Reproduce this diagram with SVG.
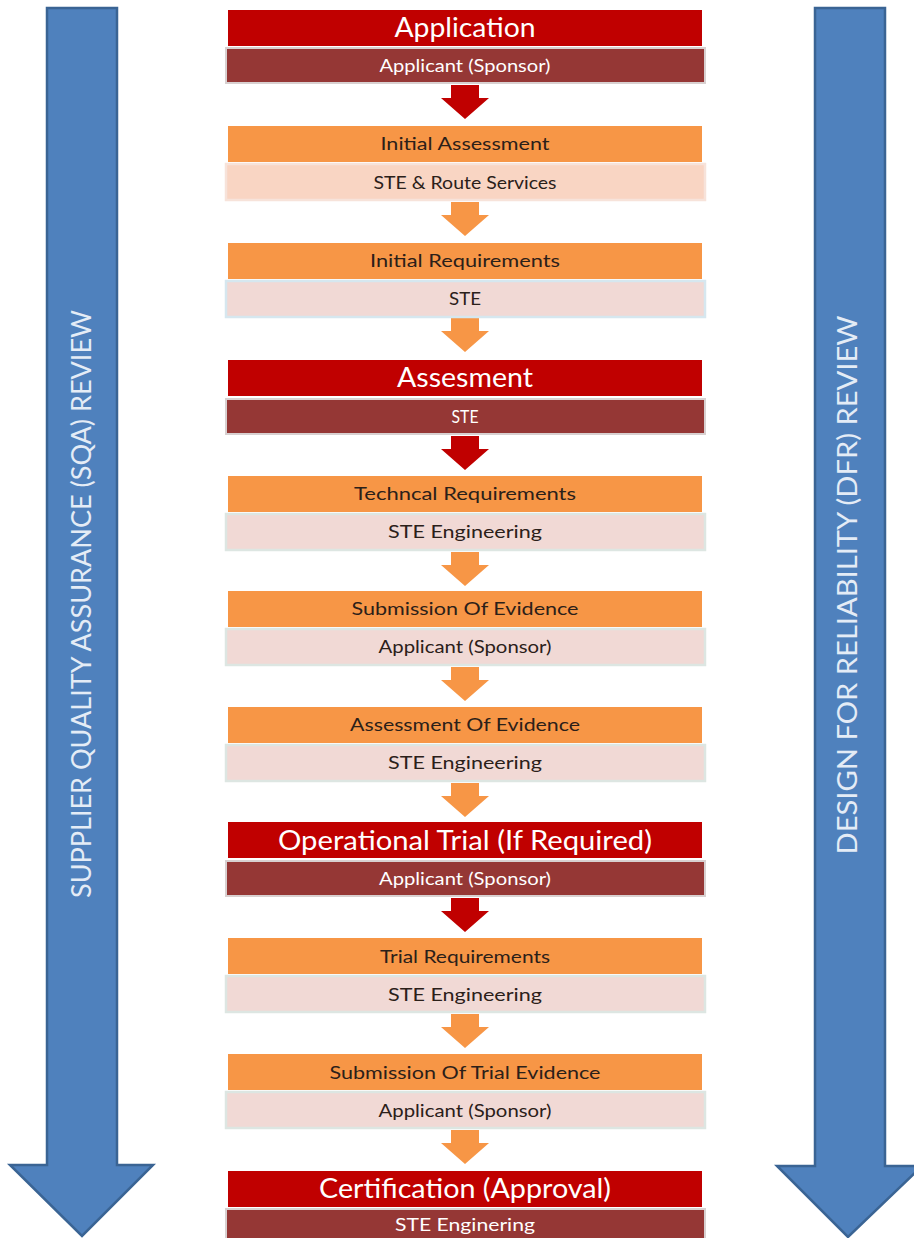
<svg xmlns="http://www.w3.org/2000/svg" width="914" height="1238" viewBox="0 0 914 1238">
<style>
.bluearrow{fill:#4F81BD;stroke:#3A6494;stroke-width:2.5;stroke-linejoin:miter}
.vtext{font-family:Lato,"Open Sans","Liberation Sans",sans-serif;font-size:27px;fill:#E4ECF6;text-anchor:middle}
.hred{fill:#C00000}
.sred{fill:#953735;stroke:#D8D0D0;stroke-width:2}
.horg{fill:#F79646}
.slt{fill:#F1D9D5;stroke:#DDE6E2;stroke-width:2.5}
.slt2{fill:#F9D5C3;stroke:#F7E3DA;stroke-width:2.5}
.tbig{font-family:Lato,"Open Sans","Liberation Sans",sans-serif;font-size:26px;fill:#FFFFFF;text-anchor:middle}
.twhite{font-family:Lato,"Open Sans","Liberation Sans",sans-serif;font-size:17px;fill:#FFFFFF;text-anchor:middle}
.tdark{font-family:Lato,"Open Sans","Liberation Sans",sans-serif;font-size:18px;fill:#2B2019;text-anchor:middle}
.ared{fill:#C00000}
.aorg{fill:#F79646}
</style>
<defs>
<path id="dn" d="M-14,0 H14 V13 H24 L0,34 L-24,13 H-14 Z"/>
</defs>

<g id="sqa-review">
<polygon class="bluearrow" points="47,8 117,8 117,1165 153,1165 82,1236 10,1165 47,1165"/>
<text class="vtext" transform="translate(91,604) rotate(-90)" textLength="588" lengthAdjust="spacingAndGlyphs">SUPPLIER QUALITY ASSURANCE (SQA) REVIEW</text>
</g>
<g id="dfr-review">
<polygon class="bluearrow" points="815,8 885,8 885,1166 922,1166 848,1237 777,1166 815,1166"/>
<text class="vtext" transform="translate(857,585) rotate(-90)" textLength="539" lengthAdjust="spacingAndGlyphs">DESIGN FOR RELIABILITY (DFR) REVIEW</text>
</g>

<g id="connectors">
<use href="#dn" class="ared" x="465" y="85"/>
<use href="#dn" class="aorg" x="465" y="202"/>
<use href="#dn" class="aorg" x="465" y="318"/>
<use href="#dn" class="ared" x="465" y="436"/>
<use href="#dn" class="aorg" x="465" y="552"/>
<use href="#dn" class="aorg" x="465" y="667"/>
<use href="#dn" class="aorg" x="465" y="783"/>
<use href="#dn" class="ared" x="465" y="898"/>
<use href="#dn" class="aorg" x="465" y="1014"/>
<use href="#dn" class="aorg" x="465" y="1130"/>
</g>

<g id="step-application">
<rect class="hred" x="228" y="10" width="474" height="36"/>
<text class="tbig" x="465" y="37" textLength="141" lengthAdjust="spacingAndGlyphs">Application</text>
<rect class="sred" x="226" y="48" width="479" height="35"/>
<text class="twhite" x="465" y="72" textLength="171" lengthAdjust="spacingAndGlyphs">Applicant (Sponsor)</text>
</g>

<g id="step-initial-assessment">
<rect class="horg" x="228" y="126" width="474" height="36"/>
<text class="tdark" x="465" y="150" textLength="169" lengthAdjust="spacingAndGlyphs">Initial Assessment</text>
<rect class="slt2" x="226" y="164" width="479" height="36"/>
<text class="tdark" x="465" y="189" textLength="183" lengthAdjust="spacingAndGlyphs">STE &amp; Route Services</text>
</g>

<g id="step-initial-requirements">
<rect class="horg" x="228" y="243" width="474" height="36"/>
<text class="tdark" x="465" y="267" textLength="190" lengthAdjust="spacingAndGlyphs">Initial Requirements</text>
<rect class="slt" x="226" y="281" width="479" height="36" style="stroke:#D6E7EF"/>
<text class="tdark" x="465" y="305" textLength="32" lengthAdjust="spacingAndGlyphs">STE</text>
</g>

<g id="step-assesment">
<rect class="hred" x="228" y="360" width="474" height="36"/>
<text class="tbig" x="465" y="387" textLength="136" lengthAdjust="spacingAndGlyphs">Assesment</text>
<rect class="sred" x="226" y="399" width="479" height="35"/>
<text class="twhite" x="465" y="423" textLength="27" lengthAdjust="spacingAndGlyphs">STE</text>
</g>

<g id="step-technical-requirements">
<rect class="horg" x="228" y="476" width="474" height="36"/>
<text class="tdark" x="465" y="500" textLength="222" lengthAdjust="spacingAndGlyphs">Techncal Requirements</text>
<rect class="slt" x="226" y="514" width="479" height="36"/>
<text class="tdark" x="465" y="538" textLength="154" lengthAdjust="spacingAndGlyphs">STE Engineering</text>
</g>

<g id="step-submission-of-evidence">
<rect class="horg" x="228" y="591" width="474" height="36"/>
<text class="tdark" x="465" y="615" textLength="227" lengthAdjust="spacingAndGlyphs">Submission Of Evidence</text>
<rect class="slt" x="226" y="629" width="479" height="36"/>
<text class="tdark" x="465" y="653" textLength="173" lengthAdjust="spacingAndGlyphs">Applicant (Sponsor)</text>
</g>

<g id="step-assessment-of-evidence">
<rect class="horg" x="228" y="707" width="474" height="36"/>
<text class="tdark" x="465" y="731" textLength="230" lengthAdjust="spacingAndGlyphs">Assessment Of Evidence</text>
<rect class="slt" x="226" y="745" width="479" height="36"/>
<text class="tdark" x="465" y="769" textLength="154" lengthAdjust="spacingAndGlyphs">STE Engineering</text>
</g>

<g id="step-operational-trial">
<rect class="hred" x="228" y="822" width="474" height="36"/>
<text class="tbig" x="465" y="850" textLength="374" lengthAdjust="spacingAndGlyphs">Operational Trial (If Required)</text>
<rect class="sred" x="226" y="861" width="479" height="35"/>
<text class="twhite" x="465" y="885" textLength="172" lengthAdjust="spacingAndGlyphs">Applicant (Sponsor)</text>
</g>

<g id="step-trial-requirements">
<rect class="horg" x="228" y="938" width="474" height="36"/>
<text class="tdark" x="465" y="963" textLength="170" lengthAdjust="spacingAndGlyphs">Trial Requirements</text>
<rect class="slt" x="226" y="976" width="479" height="36"/>
<text class="tdark" x="465" y="1001" textLength="154" lengthAdjust="spacingAndGlyphs">STE Engineering</text>
</g>

<g id="step-submission-of-trial-evidence">
<rect class="horg" x="228" y="1054" width="474" height="36"/>
<text class="tdark" x="465" y="1079" textLength="271" lengthAdjust="spacingAndGlyphs">Submission Of Trial Evidence</text>
<rect class="slt" x="226" y="1092" width="479" height="36"/>
<text class="tdark" x="465" y="1117" textLength="173" lengthAdjust="spacingAndGlyphs">Applicant (Sponsor)</text>
</g>

<g id="step-certification">
<rect class="hred" x="228" y="1171" width="474" height="36"/>
<text class="tbig" x="465" y="1198" textLength="292" lengthAdjust="spacingAndGlyphs">Certification (Approval)</text>
<rect class="sred" x="226" y="1209" width="479" height="36"/>
<text class="twhite" x="465" y="1231" font-size="16" textLength="140" lengthAdjust="spacingAndGlyphs">STE Enginering</text>
</g>
</svg>
